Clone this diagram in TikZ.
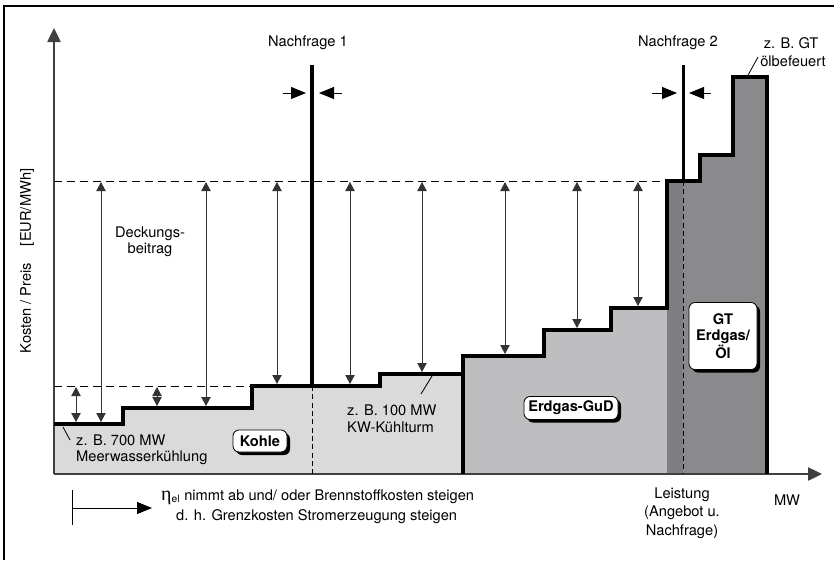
\documentclass[tikz,border=0pt]{standalone}
\usepackage{fontspec}
\setmainfont{TeX Gyre Heros}
\newfontfamily\grkfont{Liberation Serif}
\usetikzlibrary{arrows.meta,shadows}

\definecolor{kohlefill}{HTML}{DADADA}
\definecolor{gudfill}{HTML}{BEBEC0}
\definecolor{stripfill}{HTML}{7F7F82}
\definecolor{gtfill}{HTML}{8A8A8D}

\begin{document}
\begin{tikzpicture}[%
    x=0.3mm, y=-0.3mm,          % work on the pixel grid, y going down
    >={Triangle[length=2.7mm,width=2.8mm]},
    font=\fontsize{12.5}{14}\selectfont,
    ]
% -------------------------------------------------
% Styles
\tikzset{
  frame/.style={line width=0.45mm},
  axis/.style={->, >={Triangle[length=4.2mm,width=4mm]}, line width=0.4mm, black!75},
  kurve/.style={line width=1.2mm},
  guide/.style={dashed, dash pattern=on 2.4mm off 1.5mm, line width=0.3mm},
  sep/.style={dashed, dash pattern=on 1.5mm off 1mm, line width=0.3mm},
  db/.style={<->, line width=0.3mm, black!80},
  nf/.style={-{Triangle[length=4.5mm,width=3.6mm]}, line width=0.3mm},
  lead/.style={line width=0.25mm},
  box/.style={draw, fill=white, rounded corners=1.8mm, line width=0.25mm,
              font=\fontsize{12.5}{14}\selectfont\bfseries, align=center,
              drop shadow={shadow xshift=0.9mm, shadow yshift=-0.9mm, opacity=1, fill=black}},
  lbl/.style={align=center, inner sep=0pt},
}
\useasboundingbox (0,0) rectangle (834,560);
% -------------------------------------------------
% Frame (open at right and bottom)
\draw[frame] (4,560) |- (834,6);

% Supply areas
\fill[kohlefill] (54,474) -- (54,424) -- (123,424) -- (123,408) -- (252,408)
  -- (252,386) -- (380,386) -- (380,374) -- (463,374) -- (463,474) -- cycle;
\fill[gudfill] (463,474) -- (463,356) -- (544,356) -- (544,330) -- (611,330)
  -- (611,308) -- (667,308) -- (667,474) -- cycle;
\fill[stripfill] (667,474) rectangle (683,181);
\fill[gtfill] (683,474) -- (683,181) -- (700,181) -- (700,155) -- (733,155)
  -- (733,77) -- (767,77) -- (767,474) -- cycle;

% Axes
\coordinate (o) at (54,474);
\coordinate (ytip) at (54,28);
\coordinate (xtip) at (822,474);
\draw[axis] (o) -- (ytip);
\draw[axis] (o) -- (xtip);

% Price levels
\draw[guide] (54,181) -- (667,181);
\draw[guide] (54,386) -- (252,386);
\draw[sep] (312,386) -- (312,474);
\draw[sep] (683,181) -- (683,474);

% Contribution margin arrows
\foreach \x/\y in {101/424, 206/408, 277/386, 350/386, 422/374, 505/356, 577/330, 638/308}
  \draw[db] (\x,182) -- (\x,\y-2);
\foreach \x/\y in {76/424, 157/408}
  \draw[db] (\x,387) -- (\x,\y-2);

% Merit order curve
\draw[kurve] (54,424) -- (123,424) -- (123,408) -- (252,408) -- (252,386)
  -- (380,386) -- (380,374) -- (463,374) -- (463,356) -- (544,356) -- (544,330)
  -- (611,330) -- (611,308) -- (667,308) -- (667,181) -- (700,181) -- (700,155)
  -- (733,155) -- (733,77) -- (767,77) -- (767,474);
\draw[kurve] (463,474) -- (463,374);

% Demand lines
\draw[kurve] (312,65) -- (312,386);
\draw[line width=0.9mm] (683,65) -- (683,181);
\draw[nf] (283,93) -- (306,93);
\draw[nf] (342,93) -- (319,93);
\draw[nf] (652,93) -- (677,93);
\draw[nf] (711,93) -- (689,93);

% -------------------------------------------------
% Labels
\node[lbl] (nf1) at (308,43) {Nachfrage 1};
\node[lbl] (nf2) at (678,43) {Nachfrage 2};
\node[lbl] (gt) at (791,43) {z. B. GT};
\node[lbl] (oel) at (793,61) {ölbefeuert};
\coordinate (gtlead) at (747,77);
\draw[lead] (gtlead) -- (758,57);

\node[lbl] (db) at (150,242) {Deckungs-\\beitrag};

\node[lbl, rotate=90] (ylab) at (27,261) {Kosten / Preis \hspace{0.6em} [EUR/MWh]};

\node[lbl, align=left, anchor=west, font=\fontsize{12.5}{13.7}\selectfont] (mw700) at (76,450)
  {z. B. 700 MW\\Meerwasserkühlung};
\coordinate (lead700) at (63,427);
\draw[lead] (lead700) -- (70,440);

\node[lbl, align=left, anchor=west, font=\fontsize{12.5}{14.5}\selectfont] (mw100) at (347,419)
  {z. B. 100 MW\\KW-Kühlturm};
\coordinate (lead100) at (432,376);
\draw[lead] (lead100) -- (421,394);

\node[box, minimum width=16.2mm, minimum height=6.6mm, inner sep=0pt] (kohle) at (260,441) {Kohle};
\node[box, minimum width=28.2mm, minimum height=6.9mm, inner sep=0pt] (gud) at (571,408) {Erdgas-GuD};
\node[box, minimum width=20.4mm, minimum height=20.1mm, inner sep=0pt] (gtbox) at (723,336) {GT\\Erdgas/\\Öl};

% Bottom annotations
\coordinate (bar1) at (72,490);
\coordinate (bar2) at (72,525);
\draw[line width=0.3mm] (bar1) -- (bar2);
\draw[nf] (72,508) -- (152,508);
\node[lbl, anchor=west] (eta) at (161,497)
  {{\grkfont\fontsize{17}{17}\selectfont η}\textsubscript{el} nimmt ab und/ oder Brennstoffkosten steigen};
\node[lbl, anchor=west] (gk) at (176,517) {d. h. Grenzkosten Stromerzeugung steigen};
\node[lbl, font=\fontsize{12.5}{15.8}\selectfont] (leistung) at (682,513) {Leistung\\(Angebot u.\\Nachfrage)};
\node[lbl] (mw) at (787,500) {MW};
% -------------------------------------------------
\end{tikzpicture}
\end{document}
